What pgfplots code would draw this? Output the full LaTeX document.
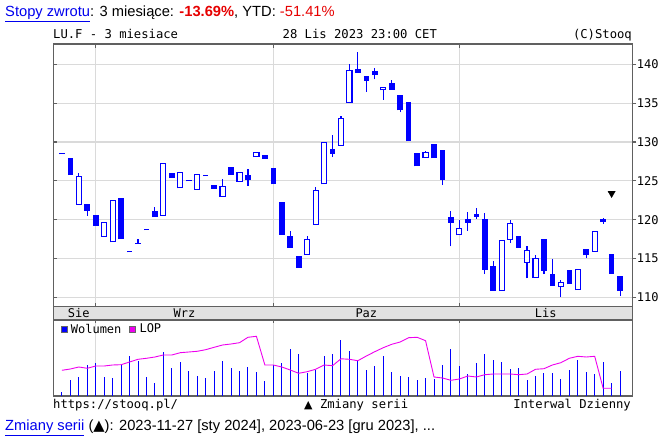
\documentclass[border=0pt]{standalone}
\usepackage{fontspec}
\setmainfont{Liberation Sans}
\newfontfamily\mono{DejaVu Sans Mono}
\newfontfamily\dejavu{DejaVu Sans}
\usepackage{pgfplots}
\usepackage{pgfplotstable}
\pgfplotsset{compat=1.18}

\definecolor{cblue}{RGB}{0,0,255}
\definecolor{framec}{RGB}{96,96,96}
\definecolor{gridc}{RGB}{218,218,218}
\definecolor{stripc}{RGB}{226,226,226}
\definecolor{linkblue}{RGB}{0,0,238}
\definecolor{redtxt}{RGB}{230,0,0}
\definecolor{lopc}{RGB}{238,0,238}

% falling days (close < open): filled bodies
\pgfplotstableread{
i o h l c
1 127.9 127.9 125.8 125.8
3 122.0 122.0 120.54 121.19
4 120.5 120.5 119.3 119.3
7 122.73 122.73 117.54 117.54
11 121.0 121.6 120.4 120.4
13 125.99 125.99 125.43 125.43
18 124.36 124.36 124.06 124.06
20 126.72 126.72 125.86 125.86
22 125.64 126.5 124.36 125.2
24 128.26 128.26 127.92 127.92
25 126.55 126.55 124.62 124.62
26 122.22 122.22 118.1 118.1
27 117.8 118.57 116.43 116.43
28 115.23 115.23 113.86 113.86
32 128.99 130.92 128.05 128.56
35 139.28 141.55 138.93 138.93
36 138.42 138.42 136.49 137.95
37 139.02 139.49 138.08 138.68
39 137.56 137.99 136.79 136.79
40 136.02 136.02 133.83 134.13
41 135.07 135.07 130.15 130.15
42 128.52 128.52 126.93 126.93
44 129.67 129.67 127.96 127.96
45 128.86 128.86 124.44 125.22
46 120.33 121.06 116.56 119.69
48 120.07 120.97 118.57 119.69
49 120.63 121.49 120.12 120.42
50 120.07 120.89 113.0 113.64
51 113.94 114.71 110.94 110.94
54 117.89 117.89 116.47 116.47
57 117.5 117.5 113.0 113.47
58 113.0 114.93 111.5 111.5
60 113.43 113.43 111.76 111.76
62 116.22 116.22 115.06 115.49
64 120.03 120.2 119.5 119.77
65 115.49 115.49 113.13 113.13
66 112.7 112.7 110.21 110.86
}\down

% rising days (close > open): hollow bodies
\pgfplotstableread{
i o h l c
2 122.0 126.0 122.0 125.56
5 117.84 119.64 117.84 119.64
6 117.16 122.43 117.16 122.43
12 120.59 127.23 120.59 127.23
14 124.1 126.12 124.1 126.12
16 123.93 125.82 123.93 125.82
19 122.99 125.3 122.99 124.27
21 124.96 126.12 124.96 126.12
23 128.13 128.65 128.13 128.65
29 115.57 117.93 115.57 117.5
30 119.43 124.19 119.43 123.72
31 124.62 129.93 124.62 129.93
33 129.59 133.36 129.59 133.06
34 135.07 140.0 135.07 139.19
38 136.7 137.0 135.42 137.0
43 128.0 128.86 128.0 128.6
47 118.06 119.99 118.06 118.87
52 110.86 117.33 110.86 117.33
53 117.5 119.99 116.99 119.56
55 114.5 116.56 112.44 116.04
56 112.61 115.49 112.61 115.06
59 111.37 112.27 110.09 111.93
61 110.99 113.64 110.99 113.64
63 115.92 118.49 115.92 118.49
}\up

% unchanged days (close = open): dashes
\pgfplotstableread{
i o h l c
0 128.5 128.5 128.5 128.5
8 115.87 115.87 115.87 115.87
9 116.94 117.5 116.94 116.94
10 118.74 118.74 118.74 118.74
15 125.0 125.0 125.0 125.0
17 125.69 125.69 125.69 125.69
}\flat

\pgfplotstableread{
i v
0 3.7
1 16
2 19.3
3 31.3
4 32.7
5 19.3
6 18
7 31
8 40
9 35
10 19.3
11 12.7
12 43.7
13 28
14 33.7
15 25
16 20
17 18
18 25
19 35
20 28
21 25
22 29
23 23.7
24 15
25 31
26 33
27 47
28 41.7
29 22.7
30 26
31 40.3
32 41.7
33 55.7
34 45
35 36
36 26
37 30.3
38 40
39 24
40 20.3
41 19.3
42 16
43 18
44 17.3
45 31.3
46 47
47 30.3
48 22
49 32.7
50 41.7
51 36
52 33.7
53 27.3
54 28
55 16
56 20
57 22.7
58 22.7
59 17
60 25.7
61 36
62 24
63 22
64 33.7
65 12.7
66 25
}\volumes

\pgfplotstableread{
i lop
0 25.7
1 27
2 29
3 27.7
4 30
5 30
6 31
7 31.3
8 34
9 36.7
10 37.7
11 39
12 41
13 41
14 43.3
15 44
16 44.7
17 46.3
18 48.7
19 51
20 52
21 53.3
22 58.7
23 59.7
24 31
25 31
26 29
27 26
28 22.7
29 24.3
30 26.7
31 31
32 30.3
33 37.2
34 36.7
35 35.3
36 40
37 44.3
38 48.3
39 51.7
40 54
41 58.3
42 58.7
43 55.3
44 19
45 18
46 15.7
47 17
48 20
49 19
50 21.3
51 22
52 22
53 22
54 21.3
55 22
56 26.7
57 27.3
58 31
59 33.3
60 37.7
61 39.7
62 39
63 39.7
64 7.7
65 7.7
}\lopdata

\pgfplotsset{
  errbody/.style 2 args={draw=none, mark=none, forget plot,
    error bars/y dir=plus, error bars/y explicit, error bars/error mark=none,
    error bars/error bar style={draw=#1, line width=#2, line cap=butt}},
}

\begin{document}
\begin{tikzpicture}[x=1pt,y=1pt]
\useasboundingbox (0,0) rectangle (669,441);

% ---------- price panel ----------
\begin{axis}[
  at={(53.2pt,134.3pt)}, anchor=south west,
  scale only axis, width=579.1pt, height=262.7pt,
  xmin=-1.029, xmax=67.447, ymin=108.804, ymax=142.62,
  axis line style={draw=framec, line width=1.4pt},
  xtick={4,25,47}, xticklabels={}, xtick pos=both,
  ytick={110,115,...,140}, yticklabels={}, ytick pos=left,
  tick align=inside, major tick length=4pt,
  tick style={draw=framec, line width=1.2pt},
  grid=major, grid style={draw=gridc, line width=1.2pt},
]
% wicks
\addplot[errbody={cblue}{1.1pt}]
  table[x=i, y=l, y error plus expr=\thisrow{h}-\thisrow{l}, y error minus expr=0] {\down};
\addplot[errbody={cblue}{1.1pt}]
  table[x=i, y=l, y error plus expr=\thisrow{h}-\thisrow{l}, y error minus expr=0] {\up};
\addplot[errbody={cblue}{1.1pt}]
  table[x=i, y=l, y error plus expr=\thisrow{h}-\thisrow{l}, y error minus expr=0] {\flat};
% filled bodies
\addplot[errbody={cblue}{5.6pt}]
  table[x=i, y expr=\thisrow{c}-0.064, y error plus expr=\thisrow{o}-\thisrow{c}+0.128, y error minus expr=0] {\down};
% hollow bodies: outline then white inside
\addplot[errbody={cblue}{6.2pt}]
  table[x=i, y expr=\thisrow{o}-0.064, y error plus expr=\thisrow{c}-\thisrow{o}+0.128, y error minus expr=0] {\up};
\addplot[errbody={white}{4.0pt}]
  table[x=i, y expr=\thisrow{o}+0.064, y error plus expr=\thisrow{c}-\thisrow{o}-0.128, y error minus expr=0] {\up};
% dashes
\addplot[errbody={cblue}{5.6pt}]
  table[x=i, y expr=\thisrow{c}-0.064, y error plus expr=0.128, y error minus expr=0] {\flat};
% series change marker
\addplot[only marks, mark=triangle*, mark size=4.2pt, mark options={rotate=180, fill=black, draw=black}] coordinates {(65,123.4)};
\end{axis}

% right tick labels
\begin{axis}[
  at={(53.2pt,134.3pt)}, anchor=south west,
  scale only axis, width=579.1pt, height=262.7pt,
  xmin=-1.029, xmax=67.447, ymin=108.804, ymax=142.62,
  axis line style={draw=none},
  xtick=\empty,
  ytick={110,115,...,140}, ytick pos=right, yticklabel pos=right,
  tick align=outside, major tick length=4pt,
  tick style={draw=framec, line width=1.2pt},
  yticklabel style={font=\mono\fontsize{12}{14}\selectfont, text=black, xshift=-3pt},
  /pgf/number format/assume math mode=true,
]
\end{axis}

% ---------- volume panel ----------
\begin{axis}[
  at={(53.2pt,45pt)}, anchor=south west,
  scale only axis, width=579.1pt, height=76pt,
  xmin=-1.029, xmax=67.447, ymin=0, ymax=76,
  axis line style={draw=framec, line width=1.4pt},
  xtick={4,25,47}, xticklabels={}, xtick pos=top,
  ytick=\empty,
  tick align=inside, major tick length=3pt,
  tick style={draw=framec, line width=1.2pt},
  xmajorgrids, grid style={draw=gridc, line width=1.2pt},
  legend style={at={(0.011,0.99)}, anchor=north west, draw=none, fill=none,
    font=\mono\fontsize{12}{14}\selectfont, inner sep=1pt,
    /tikz/every even column/.append style={column sep=6pt}},
  legend columns=2,
]
\addplot[ycomb, draw=cblue, line width=1pt,
  legend image code/.code={\draw[draw=black!60, fill=cblue, line width=0.6pt] (0pt,-3pt) rectangle (6pt,3pt);}]
  table[x=i, y=v] {\volumes};
\addlegendentry{\hspace{1.5pt}Wolumen}
\addplot[draw=lopc, line width=0.9pt,
  legend image code/.code={\draw[draw=black!60, fill=lopc, line width=0.6pt] (0pt,-3pt) rectangle (6pt,3pt);}]
  table[x=i, y=lop] {\lopdata};
\addlegendentry{\hspace{1.5pt}LOP}
\end{axis}

% ---------- month strip ----------
\begin{axis}[
  at={(53.2pt,121pt)}, anchor=south west,
  scale only axis, width=579.1pt, height=13.3pt,
  xmin=-1.029, xmax=67.447, ymin=0, ymax=1,
  axis line style={draw=framec, line width=1.4pt},
  axis background/.style={fill=stripc},
  xtick=\empty, ytick=\empty,
]
\node[font=\mono\fontsize{12}{14}\selectfont, inner sep=0pt] at (axis cs:2.0,0.5) {Sie};
\node[font=\mono\fontsize{12}{14}\selectfont, inner sep=0pt] at (axis cs:14.5,0.5) {Wrz};
\node[font=\mono\fontsize{12}{14}\selectfont, inner sep=0pt] at (axis cs:36,0.5) {Paz};
\node[font=\mono\fontsize{12}{14}\selectfont, inner sep=0pt] at (axis cs:57.2,0.5) {Lis};
\end{axis}

% ---------- texts ----------
\node[anchor=base west, inner sep=0pt, font=\fontsize{14.7}{17}\selectfont] at (5,424)
  {\textcolor{linkblue}{\underline{Stopy zwrotu}}: 3 miesiące: \textcolor{redtxt}{\textbf{-13.69\%}}, YTD: \textcolor{redtxt}{-51.41\%}};

\node[anchor=base west, inner sep=0pt, font=\mono\fontsize{12.2}{14}\selectfont] at (53,402.5) {LU.F - 3 miesiace};
\node[anchor=base west, inner sep=0pt, font=\mono\fontsize{12.2}{14}\selectfont] at (282.5,402.5) {28 Lis 2023 23:00 CET};
\node[anchor=base east, inner sep=0pt, font=\mono\fontsize{12.2}{14}\selectfont] at (632,402.5) {(C)Stooq};

\node[anchor=base west, inner sep=0pt, font=\mono\fontsize{12.2}{14}\selectfont] at (53,32.5) {https://stooq.pl/};
\node[anchor=base west, inner sep=0pt, font=\mono\fontsize{12.2}{14}\selectfont] at (304,32.5) {{\dejavu\fontsize{11}{14}\selectfont ▲} Zmiany serii};
\node[anchor=base east, inner sep=0pt, font=\mono\fontsize{12.2}{14}\selectfont] at (631,32.5) {Interwal Dzienny};

\node[anchor=base west, inner sep=0pt, font=\fontsize{14.7}{17}\selectfont] at (5,10)
  {\textcolor{linkblue}{\underline{Zmiany serii}} ({\dejavu ▲}): 2023-11-27 [sty 2024], 2023-06-23 [gru 2023], ...};
\end{tikzpicture}
\end{document}
